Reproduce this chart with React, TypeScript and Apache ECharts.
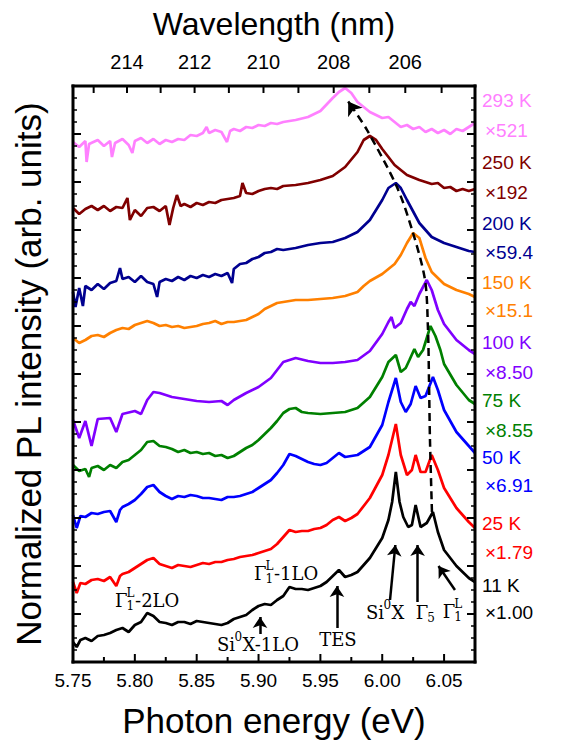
import React, { useEffect, useRef } from 'react';
import * as echarts from 'echarts';

const HC = 1239.84;

// Axis ticks
const energyTicks = [5.75, 5.8, 5.85, 5.9, 5.95, 6.0, 6.05];
const energyMinorTicks = [5.775, 5.825, 5.875, 5.925, 5.975, 6.025];
const wavelengthLabels = [214, 212, 210, 208, 206];
const wavelengthTicks = [215, 214, 213, 212, 211, 210, 209, 208, 207, 206, 205];
const yMajorTicks = [4.8, 9.6, 14.4, 19.2, 24, 28.8, 33.6, 38.4, 43.2, 48, 52.8];
const yMinorTicks = [1.2, 2.4, 3.6, 6, 7.2, 8.4, 10.8, 12, 13.2, 15.6, 16.8, 18, 20.4, 21.6, 22.8, 25.2, 26.4, 27.6, 30, 31.2, 32.4, 34.8, 36, 37.2, 39.6, 40.8, 42, 44.4, 45.6, 46.8, 49.2, 50.4, 51.6, 54, 55.2, 56.4];

// Spectra: [photon energy (eV), offset normalized intensity]
const s293K = [[5.75,52.0],[5.755,51.5],[5.76,52.1],[5.761,50.0],[5.763,51.8],[5.77,52.2],[5.775,51.6],[5.78,52.1],[5.7815,50.5],[5.784,51.9],[5.79,52.3],[5.795,51.7],[5.798,50.9],[5.80,52.1],[5.805,52.4],[5.81,51.9],[5.815,52.3],[5.82,51.8],[5.825,52.2],[5.83,52.0],[5.835,52.3],[5.84,52.2],[5.845,52.7],[5.85,52.6],[5.855,52.9],[5.858,53.5],[5.86,52.9],[5.865,53.2],[5.87,53.0],[5.8745,52.0],[5.877,53.1],[5.88,53.3],[5.885,53.1],[5.89,53.5],[5.895,53.4],[5.90,53.7],[5.905,53.6],[5.91,53.9],[5.915,53.8],[5.92,54.0],[5.93,54.2],[5.94,54.5],[5.95,55.1],[5.96,56.4],[5.965,57.0],[5.97,57.4],[5.975,56.9],[5.98,56.0],[5.99,55.0],[6.00,54.4],[6.005,54.5],[6.01,54.0],[6.015,53.5],[6.02,53.7],[6.025,53.3],[6.03,53.5],[6.035,53.0],[6.04,53.3],[6.045,52.9],[6.05,53.2],[6.055,52.8],[6.06,53.3],[6.065,53.1],[6.07,53.5],[6.075,53.9]];
const s250K = [[5.75,45.4],[5.755,44.8],[5.76,45.3],[5.765,45.6],[5.77,45.2],[5.775,45.6],[5.78,45.1],[5.785,45.5],[5.79,45.4],[5.794,46.4],[5.796,44.2],[5.80,45.2],[5.805,44.6],[5.81,45.4],[5.815,45.5],[5.82,45.1],[5.825,45.6],[5.828,43.7],[5.831,45.4],[5.834,46.7],[5.837,45.6],[5.84,45.8],[5.845,45.5],[5.85,45.9],[5.855,45.7],[5.86,46.0],[5.865,45.9],[5.87,46.2],[5.875,46.3],[5.88,46.4],[5.885,46.6],[5.887,47.9],[5.89,46.9],[5.895,46.8],[5.90,47.1],[5.905,47.3],[5.91,47.4],[5.915,47.3],[5.92,47.6],[5.93,47.7],[5.94,47.9],[5.95,48.2],[5.96,48.6],[5.97,49.5],[5.98,51.0],[5.985,52.2],[5.99,52.6],[5.995,52.2],[6.00,51.3],[6.01,49.7],[6.02,48.7],[6.03,48.2],[6.04,47.8],[6.045,47.9],[6.05,47.4],[6.055,47.5],[6.06,47.1],[6.065,47.3],[6.07,47.1],[6.075,47.3]];
const s200K = [[5.75,37.0],[5.752,35.5],[5.755,37.4],[5.758,35.6],[5.76,37.6],[5.765,37.2],[5.77,37.8],[5.775,37.3],[5.78,37.9],[5.785,38.1],[5.788,39.4],[5.79,38.3],[5.795,38.5],[5.80,38.0],[5.805,38.6],[5.81,38.0],[5.815,37.8],[5.818,36.5],[5.82,38.0],[5.825,38.3],[5.83,38.1],[5.835,38.5],[5.84,38.2],[5.845,38.6],[5.85,38.4],[5.855,38.7],[5.86,38.5],[5.865,38.8],[5.87,38.6],[5.875,38.9],[5.8786,37.9],[5.88,39.3],[5.885,39.8],[5.89,39.9],[5.895,40.3],[5.90,40.5],[5.905,40.9],[5.91,41.0],[5.915,41.3],[5.92,41.2],[5.93,41.4],[5.94,41.7],[5.95,41.9],[5.96,42.0],[5.97,42.4],[5.98,43.0],[5.99,44.2],[6.00,46.2],[6.005,47.4],[6.011,47.9],[6.015,47.4],[6.02,46.2],[6.03,43.9],[6.04,42.5],[6.05,41.9],[6.06,41.5],[6.07,41.1],[6.075,41.0]];
const s150K = [[5.75,32.4],[5.755,31.9],[5.76,32.2],[5.765,32.6],[5.77,32.7],[5.775,32.5],[5.78,32.9],[5.785,33.2],[5.79,33.4],[5.795,33.3],[5.80,33.7],[5.805,33.9],[5.81,34.1],[5.815,33.9],[5.82,33.6],[5.825,33.7],[5.83,33.5],[5.835,33.6],[5.84,33.4],[5.845,33.5],[5.85,33.6],[5.855,33.8],[5.86,33.9],[5.865,34.1],[5.87,33.8],[5.875,34.0],[5.88,34.0],[5.885,34.1],[5.89,34.2],[5.895,34.5],[5.90,34.8],[5.905,35.3],[5.91,35.6],[5.915,35.9],[5.92,36.0],[5.93,36.2],[5.94,36.2],[5.95,36.3],[5.96,36.4],[5.97,36.6],[5.98,37.0],[5.985,37.6],[5.99,38.1],[6.00,38.8],[6.01,39.8],[6.015,40.7],[6.02,41.9],[6.025,42.9],[6.03,42.4],[6.035,40.4],[6.04,39.0],[6.05,37.8],[6.06,37.2],[6.07,36.8],[6.075,36.5]];
const s100K = [[5.75,24.2],[5.755,22.4],[5.76,24.1],[5.765,21.6],[5.77,24.3],[5.78,24.4],[5.785,23.0],[5.79,24.8],[5.80,25.1],[5.805,24.8],[5.81,26.2],[5.815,27.0],[5.82,26.9],[5.83,26.5],[5.84,26.3],[5.85,26.1],[5.86,26.0],[5.87,26.1],[5.875,25.7],[5.88,26.2],[5.89,26.9],[5.90,27.5],[5.91,28.4],[5.92,30.0],[5.93,30.4],[5.94,30.1],[5.95,29.9],[5.96,29.9],[5.97,30.0],[5.98,30.2],[5.99,31.1],[6.00,32.8],[6.005,34.0],[6.0075,34.5],[6.01,33.4],[6.015,33.9],[6.02,35.3],[6.023,36.0],[6.026,35.6],[6.03,36.8],[6.036,38.2],[6.04,37.2],[6.045,35.2],[6.05,33.8],[6.06,32.2],[6.07,31.2],[6.075,30.8]];
const s75K = [[5.75,19.7],[5.755,19.1],[5.76,19.3],[5.763,18.5],[5.765,19.4],[5.77,19.6],[5.775,19.2],[5.78,19.7],[5.785,19.4],[5.79,20.0],[5.795,20.2],[5.80,20.7],[5.805,21.2],[5.81,22.0],[5.815,22.1],[5.82,21.6],[5.825,21.5],[5.83,21.3],[5.835,21.0],[5.84,21.2],[5.845,20.9],[5.85,21.0],[5.855,20.8],[5.86,20.9],[5.865,20.6],[5.87,20.7],[5.875,20.4],[5.88,20.6],[5.885,21.0],[5.89,21.4],[5.895,21.7],[5.90,22.2],[5.905,22.8],[5.91,23.4],[5.915,24.1],[5.92,24.9],[5.925,25.3],[5.93,25.4],[5.935,25.0],[5.94,24.9],[5.95,24.8],[5.96,24.9],[5.97,25.0],[5.98,25.4],[5.99,26.5],[6.00,28.5],[6.005,30.0],[6.011,30.7],[6.015,29.0],[6.019,29.4],[6.022,30.2],[6.026,31.3],[6.029,30.5],[6.033,31.2],[6.039,33.6],[6.043,32.6],[6.047,31.2],[6.05,29.8],[6.06,27.7],[6.07,26.2],[6.075,25.8]];
const s50K = [[5.75,14.7],[5.753,13.4],[5.756,14.6],[5.76,14.5],[5.765,14.9],[5.77,14.8],[5.775,15.0],[5.78,15.1],[5.785,14.0],[5.788,15.2],[5.79,15.5],[5.795,15.8],[5.80,16.2],[5.805,16.8],[5.81,17.5],[5.815,17.7],[5.82,17.0],[5.825,16.6],[5.83,16.3],[5.835,16.6],[5.84,16.5],[5.845,16.7],[5.85,16.6],[5.855,16.4],[5.86,16.4],[5.865,16.3],[5.87,16.2],[5.875,16.5],[5.88,16.5],[5.885,16.6],[5.89,16.8],[5.895,17.0],[5.90,17.4],[5.905,17.8],[5.91,18.2],[5.915,18.9],[5.92,19.7],[5.925,20.8],[5.93,20.6],[5.935,20.3],[5.94,20.0],[5.945,19.8],[5.95,19.7],[5.955,19.9],[5.96,20.4],[5.965,20.9],[5.97,20.5],[5.975,20.6],[5.98,20.7],[5.99,21.5],[6.00,23.7],[6.005,26.0],[6.011,28.4],[6.015,26.0],[6.019,25.0],[6.023,25.8],[6.027,27.6],[6.031,26.4],[6.035,26.6],[6.041,28.5],[6.045,27.2],[6.05,25.2],[6.06,23.0],[6.07,21.6],[6.075,20.9]];
const s25K = [[5.75,8.0],[5.753,6.9],[5.756,7.9],[5.76,7.8],[5.765,8.2],[5.77,8.3],[5.775,8.1],[5.78,8.5],[5.785,7.6],[5.788,8.6],[5.79,8.8],[5.795,9.0],[5.80,9.4],[5.805,9.8],[5.81,10.2],[5.815,10.4],[5.82,9.8],[5.825,9.6],[5.83,9.4],[5.835,9.7],[5.84,9.6],[5.845,9.5],[5.85,9.7],[5.855,9.9],[5.86,9.8],[5.865,10.0],[5.87,10.0],[5.875,10.2],[5.88,10.3],[5.885,10.5],[5.89,10.6],[5.895,10.7],[5.90,10.9],[5.905,11.1],[5.91,11.3],[5.915,11.8],[5.92,12.5],[5.925,13.2],[5.93,13.0],[5.935,13.1],[5.94,13.1],[5.945,13.3],[5.95,13.4],[5.955,13.7],[5.96,14.2],[5.965,14.5],[5.97,14.1],[5.975,14.4],[5.98,14.8],[5.99,16.4],[6.00,18.7],[6.005,20.7],[6.011,23.8],[6.015,20.7],[6.02,18.7],[6.024,19.2],[6.027,20.7],[6.031,19.0],[6.035,19.0],[6.04,20.7],[6.045,19.2],[6.05,17.4],[6.06,15.4],[6.07,14.0],[6.075,13.4]];
const s11K = [[5.75,2.0],[5.753,1.5],[5.756,2.2],[5.76,2.4],[5.765,2.1],[5.77,2.6],[5.775,2.7],[5.78,2.9],[5.785,3.2],[5.79,3.4],[5.795,3.0],[5.80,3.7],[5.805,4.0],[5.81,4.9],[5.815,4.6],[5.82,4.0],[5.825,3.9],[5.83,3.7],[5.835,4.0],[5.84,4.0],[5.845,3.8],[5.85,4.1],[5.855,4.0],[5.86,3.9],[5.865,3.8],[5.87,3.7],[5.875,3.9],[5.88,4.3],[5.885,4.5],[5.89,4.7],[5.895,5.2],[5.90,5.6],[5.905,5.8],[5.91,5.7],[5.915,6.2],[5.92,6.6],[5.925,7.5],[5.93,7.3],[5.935,7.3],[5.94,7.2],[5.945,7.4],[5.95,7.6],[5.955,8.0],[5.96,8.6],[5.965,9.2],[5.97,8.5],[5.975,8.7],[5.98,9.0],[5.99,10.4],[6.00,12.4],[6.005,14.2],[6.008,16.0],[6.011,19.0],[6.014,16.0],[6.017,14.5],[6.021,13.5],[6.024,13.7],[6.027,15.7],[6.031,13.5],[6.036,13.9],[6.041,15.0],[6.045,13.0],[6.05,11.2],[6.06,9.6],[6.07,8.4],[6.075,8.0]];

const seriesData = [s293K, s250K, s200K, s150K, s100K, s75K, s50K, s25K, s11K];
const tempLabels = ['293 K', '250 K', '200 K', '150 K', '100 K', '75 K', '50 K', '25 K', '11 K'];
const factorLabels = ['×521', '×192', '×59.4', '×15.1', '×8.50', '×8.55', '×6.91', '×1.79', '×1.00'];

// Peak-shift guide (dashed) through the main peaks
const peakPath = [[6.0402,15.0],[6.0386,22.2],[6.0378,28.2],[6.037,33.2],[6.0346,38.2],[6.0249,42.9],[6.0119,47.5],[5.9877,53.2],[5.9755,55.5]];
const peakArrowHead = [[5.977, 55.2], [5.9725, 56.05]];

// Annotation arrows (tail -> tip)
const annotArrows = [
  [[5.9012, 2.8], [5.9012, 4.5]],
  [[5.9634, 3.4], [5.9634, 7.6]],
  [[6.0063, 6.2], [6.0106, 11.7]],
  [[6.0286, 6.0], [6.0286, 11.7]],
  [[6.0588, 7.2], [6.0455, 9.6]],
];
// Annotation anchors
const annotAnchors = [[5.784, 6.2], [5.8664, 1.8], [5.8963, 8.9], [5.9642, 2.3], [5.9869, 5.0], [6.027, 5.0], [6.049, 5.1]];

const colors = ['#ff80ff', '#800000', '#000090', '#ff8000', '#8000ff', '#008000', '#0000ff', '#ff0000', '#000000'];
const tempY = [100, 162, 223, 282, 342, 400, 457, 523, 585];
const factorY = [130, 192, 252, 310, 372, 430, 485, 552, 612];

type Part = { t: string; dx: number; dy: number; fs: number; align?: string };
const gamma1L = (rest: string): Part[] => [
  { t: 'Γ', dx: 0, dy: 0, fs: 18 },
  { t: '1', dx: 11.5, dy: 6, fs: 12 },
  { t: 'L', dx: 11.5, dy: -7, fs: 12 },
  { t: rest, dx: 20, dy: 0, fs: 18 },
];
const annotParts: Part[][] = [
  gamma1L('-2LO'),
  [{ t: 'Si', dx: 0, dy: 0, fs: 18 }, { t: '0', dx: 17.5, dy: -7, fs: 12 }, { t: 'X-1LO', dx: 25.5, dy: 0, fs: 18 }],
  gamma1L('-1LO'),
  [{ t: 'TES', dx: 0, dy: 0, fs: 18, align: 'center' }],
  [{ t: 'Si', dx: 0, dy: 0, fs: 18 }, { t: '0', dx: 17.5, dy: -7, fs: 12 }, { t: 'X', dx: 25.5, dy: 0, fs: 18 }],
  [{ t: 'Γ', dx: 0, dy: 0, fs: 18 }, { t: '5', dx: 11.5, dy: 6, fs: 12 }],
  [{ t: 'Γ', dx: 0, dy: 0, fs: 18 }, { t: '1', dx: 11.5, dy: 6, fs: 12 }, { t: 'L', dx: 11.5, dy: -7, fs: 12 }],
];

const SANS = '"Liberation Sans", Arial, sans-serif';
const XMIN = 5.75;
const XMAX = 6.075;
const YMAX = 57.6;
const G = { left: 73, top: 86, width: 402, height: 576 };
const FW = 3; // frame thickness

export default function App() {
  const ref = useRef<HTMLDivElement>(null);
  useEffect(() => {
    if (!ref.current) return;
    const chart = echarts.init(ref.current, null, { renderer: 'svg' });
    const lineSeries = seriesData.map((d, i) => ({
      type: 'line',
      name: tempLabels[i],
      data: d,
      showSymbol: false,
      symbol: 'none',
      silent: true,
      lineStyle: { color: colors[i], width: 2.7 },
      itemStyle: { color: colors[i] },
      z: 3,
    }));
    // Frame bars and inward ticks as filled rectangles, placed through the axes' scales
    const frameSeries = {
      type: 'custom', silent: true, clip: false, z: 10,
      data: [[XMIN, 0]],
      renderItem: (_params: any, api: any) => {
        const [x0, y0] = api.coord([XMIN, 0]);
        const x1 = api.coord([XMAX, 0])[0];
        const y1 = api.coord([XMIN, YMAX])[1];
        const ch: any[] = [];
        const box = (x: number, y: number, w: number, h: number) =>
          ch.push({ type: 'rect', shape: { x, y, width: w, height: h }, style: { fill: '#000', stroke: null } });
        // frame
        box(x0 - FW / 2, y1 - FW / 2, x1 - x0 + FW, FW);
        box(x0 - FW / 2, y0 - FW / 2, x1 - x0 + FW, FW);
        box(x0 - FW / 2, y1 - FW / 2, FW, y0 - y1 + FW);
        box(x1 - FW / 2, y1 - FW / 2, FW, y0 - y1 + FW);
        // ticks
        energyTicks.forEach((e) => { const x = api.coord([e, 0])[0]; box(x - 1, y0 - 8, 2, 8); });
        energyMinorTicks.forEach((e) => { const x = api.coord([e, 0])[0]; box(x - 1, y0 - 5, 2, 5); });
        wavelengthTicks.forEach((w) => { const x = api.coord([HC / w, 0])[0]; box(x - 1, y1, 2, 7); });
        yMajorTicks.forEach((v) => { const y = api.coord([XMIN, v])[1]; box(x0, y - 1, 8, 2); box(x1 - 8, y - 1, 8, 2); });
        yMinorTicks.forEach((v) => { const y = api.coord([XMIN, v])[1]; box(x0, y - 0.75, 4, 1.5); box(x1 - 4, y - 0.75, 4, 1.5); });
        return { type: 'group', children: ch };
      },
    };
    const option: any = {
      animation: false,
      textStyle: { fontFamily: SANS },
      grid: { left: G.left, top: G.top, width: G.width, height: G.height, containLabel: false, outerBoundsMode: 'none' },
      xAxis: [
        {
          type: 'value', position: 'bottom', min: XMIN, max: XMAX,
          axisLine: { show: false, onZero: false },
          axisTick: { show: false },
          axisLabel: { show: true, customValues: energyTicks, formatter: (v: number) => v.toFixed(2), color: '#000', fontSize: 19, fontFamily: SANS, margin: 9 },
          splitLine: { show: false },
          name: 'Photon energy (eV)', nameLocation: 'middle', nameGap: 41,
          nameTextStyle: { color: '#000', fontSize: 35, fontFamily: SANS },
        },
        {
          type: 'value', position: 'top', min: XMIN, max: XMAX,
          axisLine: { show: false, onZero: false },
          axisTick: { show: false },
          axisLabel: { show: true, customValues: wavelengthLabels.map((w) => HC / w), formatter: (v: number) => String(Math.round(HC / v)), color: '#000', fontSize: 20, fontFamily: SANS, margin: 14 },
          splitLine: { show: false },
          name: 'Wavelength (nm)', nameLocation: 'middle', nameGap: 46,
          nameTextStyle: { color: '#000', fontSize: 32, fontFamily: SANS },
        },
      ],
      yAxis: {
        type: 'value', position: 'left', min: 0, max: YMAX,
        axisLine: { show: false, onZero: false },
        axisTick: { show: false },
        axisLabel: { show: false },
        splitLine: { show: false },
        name: 'Normalized PL intensity (arb. units)', nameLocation: 'middle', nameGap: 27,
        nameTextStyle: { color: '#000', fontSize: 35, fontFamily: SANS },
      },
      series: [
        { type: 'line', data: [], xAxisIndex: 1, yAxisIndex: 0, silent: true, showSymbol: false },
        ...lineSeries,
        {
          type: 'line', data: peakPath,
          showSymbol: false, symbol: 'none', silent: true, smooth: 0.3,
          lineStyle: { color: '#000', width: 2.5, type: [8, 5] }, z: 5,
        },
        {
          type: 'lines', coordinateSystem: 'cartesian2d', silent: true,
          symbol: ['none', 'arrow'], symbolSize: 13,
          lineStyle: { color: '#000', width: 2.5, opacity: 1, curveness: 0 },
          data: [{ coords: peakArrowHead }], z: 6,
        },
        {
          type: 'lines', coordinateSystem: 'cartesian2d', silent: true,
          symbol: ['none', 'arrow'], symbolSize: 11,
          lineStyle: { color: '#000', width: 2.5, opacity: 1, curveness: 0 },
          data: annotArrows.map((c) => ({ coords: c })), z: 6,
        },
        {
          type: 'custom', silent: true, clip: false,
          data: annotAnchors,
          renderItem: (params: any, api: any) => {
            const p = api.coord([api.value(0), api.value(1)]);
            const parts = annotParts[params.dataIndex] || [];
            return {
              type: 'group',
              children: parts.map((q) => ({
                type: 'text', x: p[0] + q.dx, y: p[1] + q.dy,
                style: {
                  text: q.t, fontSize: q.fs, fontFamily: '"DejaVu Serif", serif', fill: '#000',
                  align: q.align || 'left', verticalAlign: 'middle',
                  textAlign: q.align || 'left', textVerticalAlign: 'middle',
                },
              })),
            };
          },
          z: 7,
        },
        frameSeries,
      ],
      graphic: {
        elements: [
          ...tempLabels.map((t, i) => ({
            type: 'text', x: 482, y: tempY[i], silent: true,
            style: { text: t, fill: colors[i], fontSize: 19, fontFamily: SANS, verticalAlign: 'middle', textVerticalAlign: 'middle' },
          })),
          ...factorLabels.map((t, i) => ({
            type: 'text', x: 485, y: factorY[i], silent: true,
            style: { text: t, fill: colors[i], fontSize: 19, fontFamily: SANS, verticalAlign: 'middle', textVerticalAlign: 'middle' },
          })),
        ],
      },
    };
    chart.setOption(option);
    return () => chart.dispose();
  }, []);
  return <div ref={ref} style={{ position: 'fixed', left: 0, top: 0, width: 568, height: 743, background: '#fff' }} />;
}
